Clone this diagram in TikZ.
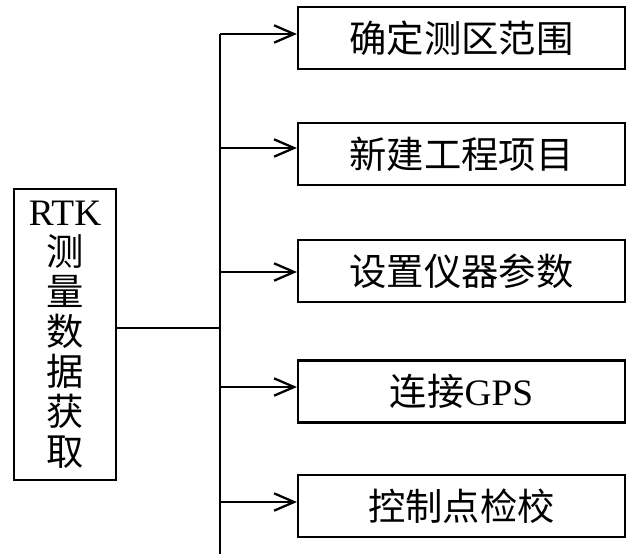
\documentclass[tikz,border=0pt]{standalone}
\usepackage{fontspec}
\setmainfont{Liberation Serif}
\newfontfamily\cjk{Noto Sans CJK SC}
\usetikzlibrary{arrows.meta}
\begin{document}
\begin{tikzpicture}[x=0.75pt,y=-0.75pt,
  line width=1.6pt,
  boxr/.style={draw=black,line width=1.6pt,inner sep=0pt,minimum width=245.25pt,minimum height=46.5pt,font=\fontsize{28}{30}\selectfont},
  boxl/.style={draw=black,line width=1.6pt,inner sep=0pt,minimum width=76.5pt,minimum height=218.25pt,align=center,font=\fontsize{28}{30}\selectfont},
  arr/.style={-{Straight Barb[length=15pt,width=13pt,line width=1.7pt]}}]
\useasboundingbox (0,0) rectangle (641,554);
\node[boxl] (L) at (65,334.5) {RTK\\{\cjk 测}\\{\cjk 量}\\{\cjk 数}\\{\cjk 据}\\{\cjk 获}\\{\cjk 取}};
\node[boxr] (b1) at (461.5,38) {\cjk 确定测区范围};
\node[boxr] (b2) at (461.5,154) {\cjk 新建工程项目};
\node[boxr] (b3) at (461.5,271) {\cjk 设置仪器参数};
\node[boxr] (b4) at (461.5,391.5) {{\cjk 连接}GPS};
\node[boxr] (b5) at (461.5,506) {\cjk 控制点检校};
\coordinate (t1) at (220,34);
\coordinate (t2) at (220,148);
\coordinate (t3) at (220,272);
\coordinate (t4) at (220,387);
\coordinate (t5) at (220,502);
\coordinate (j) at (220,328);
\coordinate (tb) at (220,554);
\draw (t1) -- (tb);
\draw[line width=1.3pt] (L.east |- j) -- (j);
\draw[arr] (t1) -- (t1 -| b1.west);
\draw[arr] (t2) -- (t2 -| b2.west);
\draw[arr] (t3) -- (t3 -| b3.west);
\draw[arr] (t4) -- (t4 -| b4.west);
\draw[arr] (t5) -- (t5 -| b5.west);
\end{tikzpicture}
\end{document}
